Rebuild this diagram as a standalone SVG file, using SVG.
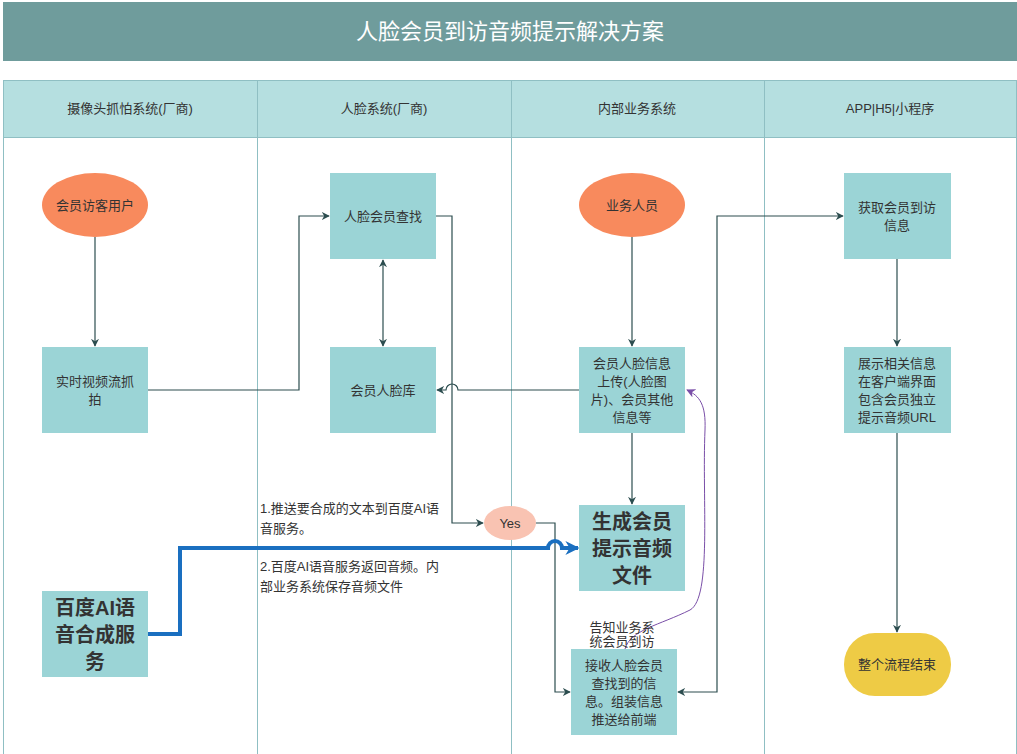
<svg xmlns="http://www.w3.org/2000/svg" width="1017" height="754" viewBox="0 0 1017 754">
<defs>
<style>
text{font-family:"Liberation Sans","Noto Sans CJK SC",sans-serif;fill:#333;text-anchor:middle;dominant-baseline:central}
.hdr{font-size:13px;fill:#333}
.t{font-size:13px}
.b{font-size:20px;font-weight:bold}
.box{fill:#9bd4d6}
.lane{stroke:#8fbfc3;stroke-width:1;fill:none}
.c{fill:none;stroke:#2c4d4f;stroke-width:1.2}
.lbl{font-size:13px;text-anchor:start}
</style>
<marker id="a" viewBox="0 0 10 10" refX="9" refY="5" markerWidth="8" markerHeight="8" orient="auto-start-reverse" markerUnits="userSpaceOnUse">
<path d="M0,0 L10,5 L0,10 L3,5 Z" fill="#2c4d4f"/>
</marker>
<marker id="ab" viewBox="0 0 10 10" refX="9" refY="5" markerWidth="14" markerHeight="14" orient="auto" markerUnits="userSpaceOnUse">
<path d="M0,0 L10,5 L0,10 L3,5 Z" fill="#1a6fc0"/>
</marker>
<marker id="ap" viewBox="0 0 10 10" refX="9" refY="5" markerWidth="9" markerHeight="9" orient="auto" markerUnits="userSpaceOnUse">
<path d="M0,0 L10,5 L0,10 L3,5 Z" fill="#7a4fa8"/>
</marker>
</defs>
<rect width="1017" height="754" fill="#fff"/>
<g id="title">
<rect x="3" y="2" width="1014" height="59" fill="#6f9c9c"/>
<text x="510" y="31" style="font-size:22px;fill:#fff">人脸会员到访音频提示解决方案</text>
</g>
<g id="lanes">
<rect x="3" y="80" width="1014" height="57" fill="#b5dfe0"/>
<path class="lane" d="M3.5,80 V754 M257.5,80 V754 M511.5,80 V754 M764.5,80 V754 M1016.5,80 V754 M3,80.5 H1017 M3,137.5 H1017"/>
<text class="hdr" x="130" y="108">摄像头抓怕系统(厂商)</text>
<text class="hdr" x="384" y="108">人脸系统(厂商)</text>
<text class="hdr" x="637" y="108">内部业务系统</text>
<text class="hdr" x="890" y="108">APP|H5|小程序</text>
</g>
<g id="connectors">
<path class="c" d="M95,237 V346" marker-end="url(#a)"/>
<path class="c" d="M148,390 H299 V216 H329" marker-end="url(#a)"/>
<path class="c" d="M383,260 V346" marker-start="url(#a)" marker-end="url(#a)"/>
<path class="c" d="M436,216 H452 V523 H483" marker-end="url(#a)"/>
<path class="c" d="M579,390 H458 A6,6 0 0 0 446,390 H437" marker-end="url(#a)"/>
<path class="c" d="M536,523 H555 V692 H570" marker-end="url(#a)"/>
<path class="c" d="M632,237 V346" marker-end="url(#a)"/>
<path class="c" d="M632,433 V504" marker-end="url(#a)"/>
<path class="c" d="M678,692 H717 V216 H843" marker-start="url(#a)" marker-end="url(#a)"/>
<path class="c" d="M897,259 V346" marker-end="url(#a)"/>
<path class="c" d="M897,433 V632" marker-end="url(#a)"/>
<path d="M148,634 H180 V548 H548 A7,7 0 0 1 562,548 H578" fill="none" stroke="#1a6fc0" stroke-width="4" marker-end="url(#ab)"/>
<path d="M625,649 C630,630 660,625 690,610 C712,598 702,500 705,430 C706,405 700,396 687,390" fill="none" stroke="#7a4fa8" stroke-width="1" marker-end="url(#ap)"/>
</g>
<g id="n_visitor">
<ellipse cx="95" cy="205" rx="53" ry="32" fill="#f88a5d"/>
<text class="t" x="95" y="205">会员访客用户</text>
</g>
<g id="n_capture">
<rect class="box" x="42" y="347" width="106" height="86"/>
<text class="t" x="95" y="381">实时视频流抓</text>
<text class="t" x="95" y="399">拍</text>
</g>
<g id="n_search">
<rect class="box" x="330" y="173" width="106" height="86"/>
<text class="t" x="383" y="216">人脸会员查找</text>
</g>
<g id="n_db">
<rect class="box" x="330" y="347" width="106" height="86"/>
<text class="t" x="383" y="390">会员人脸库</text>
</g>
<g id="n_staff">
<ellipse cx="632" cy="205" rx="53" ry="32" fill="#f88a5d"/>
<text class="t" x="632" y="205">业务人员</text>
</g>
<g id="n_upload">
<rect class="box" x="579" y="347" width="106" height="86"/>
<text class="t" x="632" y="363">会员人脸信息</text>
<text class="t" x="632" y="381">上传(人脸图</text>
<text class="t" x="632" y="399">片)、会员其他</text>
<text class="t" x="632" y="417">信息等</text>
</g>
<g id="n_yes">
<ellipse cx="510" cy="523" rx="26" ry="17" fill="#f9c3b2"/>
<text class="t" x="510" y="523">Yes</text>
</g>
<g id="n_gen">
<rect class="box" x="579" y="505" width="106" height="86"/>
<text class="b" x="632" y="522">生成会员</text>
<text class="b" x="632" y="549">提示音频</text>
<text class="b" x="632" y="576">文件</text>
</g>
<g id="n_baidu">
<rect class="box" x="42" y="591" width="106" height="86"/>
<text class="b" x="95" y="608">百度AI语</text>
<text class="b" x="95" y="635">音合成服</text>
<text class="b" x="95" y="662">务</text>
</g>
<g id="n_receive">
<rect class="box" x="571" y="649" width="106" height="86"/>
<text class="t" x="624" y="665">接收人脸会员</text>
<text class="t" x="624" y="683">查找到的信</text>
<text class="t" x="624" y="701">息。组装信息</text>
<text class="t" x="624" y="719">推送给前端</text>
</g>
<g id="n_get">
<rect class="box" x="844" y="173" width="107" height="86"/>
<text class="t" x="897" y="207">获取会员到访</text>
<text class="t" x="897" y="225">信息</text>
</g>
<g id="n_show">
<rect class="box" x="844" y="347" width="107" height="86"/>
<text class="t" x="897" y="363">展示相关信息</text>
<text class="t" x="897" y="381">在客户端界面</text>
<text class="t" x="897" y="399">包含会员独立</text>
<text class="t" x="897" y="417">提示音频URL</text>
</g>
<g id="n_end">
<rect x="844" y="633" width="107" height="63" rx="31" fill="#eecb45"/>
<text class="t" x="897" y="664">整个流程结束</text>
</g>
<g id="labels">
<text class="lbl" x="260" y="508">1.推送要合成的文本到百度AI语</text>
<text class="lbl" x="260" y="528">音服务。</text>
<text class="lbl" x="260" y="566">2.百度AI语音服务返回音频。内</text>
<text class="lbl" x="260" y="586">部业务系统保存音频文件</text>
<text class="t" x="622" y="627">告知业务系</text>
<text class="t" x="622" y="641">统会员到访</text>
</g>
</svg>
